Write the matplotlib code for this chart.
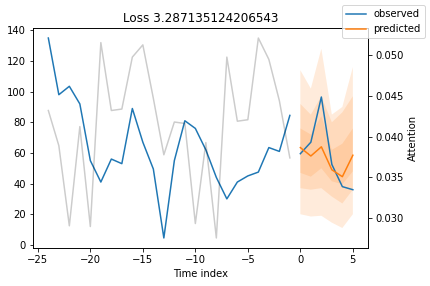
import matplotlib
matplotlib.use("Agg")
import matplotlib.pyplot as plt
import numpy as np

# history / future time index
x_obs = np.arange(-24, 0)
x_pred = np.arange(0, 6)

y_obs = [135, 98, 103.5, 92, 55, 41, 56, 53, 89, 67, 49.5, 4.5,
         55, 81, 76, 62, 44, 30, 41, 45, 47.5, 63.5, 61, 84.5]
y_future = [59.5, 67, 96.5, 52.5, 38, 36]
y_predicted = [63.5, 58, 64, 49, 44.5, 58.5]

# quantile bands (lower, upper) for 0.02/0.98, 0.1/0.9, 0.25/0.75
q_outer_lo = [20, 18.5, 19, 14.5, 11, 20]
q_outer_hi = [114, 102, 128, 85, 90, 116]
q_mid_lo = [37, 36, 37, 31.5, 27, 36]
q_mid_hi = [92, 85, 97, 80, 86.5, 97]
q_inner_lo = [47, 44.5, 50, 41.5, 39.5, 48]
q_inner_hi = [76, 72, 84, 62, 66, 76]

attention = [0.04320, 0.03889, 0.02906, 0.04123, 0.02897, 0.05153, 0.04320, 0.04338,
             0.04975, 0.05125, 0.04469, 0.03777, 0.04179, 0.04161, 0.02934, 0.03927,
             0.02757, 0.04975, 0.04189, 0.04207, 0.05209, 0.04947, 0.04441, 0.03739]

obs_color = "#1f77b4"
pred_color = "#ff7f0e"

fig, ax = plt.subplots(figsize=(430 / 72, 286 / 72), dpi=72)
fig.subplots_adjust(left=0.077, right=0.856, top=0.902, bottom=0.133)

ax.plot(x_obs, y_obs, label="observed", c=obs_color)
ax.plot(x_pred, y_future, c=obs_color)
ax.plot(x_pred, y_predicted, label="predicted", c=pred_color)
for lo, hi in [(q_outer_lo, q_outer_hi), (q_mid_lo, q_mid_hi), (q_inner_lo, q_inner_hi)]:
    ax.fill_between(x_pred, lo, hi, alpha=0.15, fc=pred_color)

ax2 = ax.twinx()
ax2.plot(x_obs, attention, alpha=0.2, color="k")
ax2.set_ylabel("Attention")

ax.set_xlabel("Time index")
ax.set_title("Loss 3.287135124206543")
fig.legend()

plt.savefig("out.png", dpi=72)
